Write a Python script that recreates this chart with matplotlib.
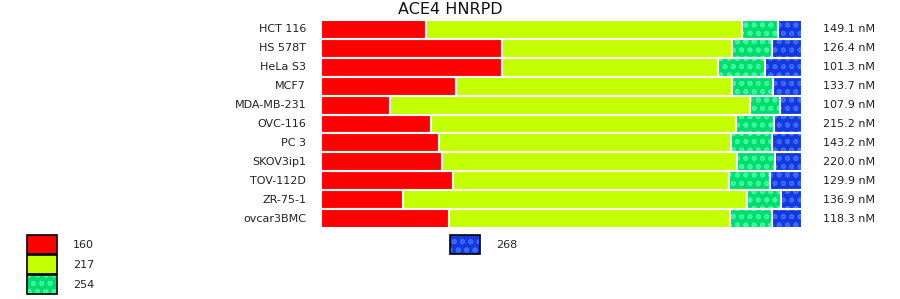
import matplotlib
matplotlib.use("Agg")
import matplotlib.pyplot as plt
from matplotlib.patches import Rectangle

cell_lines = ["HCT 116", "HS 578T", "HeLa S3", "MCF7", "MDA-MB-231", "OVC-116",
              "PC 3", "SKOV3ip1", "TOV-112D", "ZR-75-1", "ovcar3BMC"]
s160 = [21.8, 37.6, 37.6, 28.1, 14.3, 22.9, 24.5, 25.2, 27.4, 17.0, 26.6]
s217 = [65.7, 47.8, 44.9, 57.4, 74.8, 63.4, 60.7, 61.3, 57.4, 71.5, 58.4]
s254 = [7.5, 8.3, 9.8, 8.5, 6.4, 7.9, 8.5, 7.9, 8.5, 7.1, 8.7]
s268 = [5.0, 6.2, 7.7, 6.0, 4.4, 5.8, 6.2, 5.6, 6.7, 4.4, 6.2]
totals = ["149.1 nM", "126.4 nM", "101.3 nM", "133.7 nM", "107.9 nM", "215.2 nM",
          "143.2 nM", "220.0 nM", "129.9 nM", "136.9 nM", "118.3 nM"]
series_names = ["160", "217", "254", "268"]
series = [s160, s217, s254, s268]
faces = ["#ff0000", "#c4ff00", "#00dd6e", "#1539e0"]
hatch_cols = [None, None, "#3dfc9c", "#3c6cff"]
hatches = [None, None, "oo", "oo"]

plt.rcParams["hatch.linewidth"] = 1.2
plt.rcParams["font.family"] = "DejaVu Sans"

W, H = 900, 299
fig = plt.figure(figsize=(W / 100, H / 100), dpi=100)
ax = fig.add_axes([321 / W, 1 - 228 / H, 481 / W, 208 / H])
n = len(cell_lines)
ys = list(range(n))
left = [0.0] * n
for vals, fc, hc, ht in zip(series, faces, hatch_cols, hatches):
    if ht:
        ax.barh(ys, vals, left=left, height=1.0, color=fc, edgecolor=hc,
                hatch=ht, linewidth=0)
    else:
        ax.barh(ys, vals, left=left, height=1.0, color=fc, linewidth=0)
    ax.barh(ys, vals, left=left, height=1.0, fill=False, edgecolor="white",
            linewidth=1.5)
    left = [l + v for l, v in zip(left, vals)]

ax.set_xlim(0, max(left))
ax.set_ylim(n - 0.5, -0.5)
ax.axis("off")

for i, (name, tot) in enumerate(zip(cell_lines, totals)):
    ax.text(-0.031, i, name, transform=ax.get_yaxis_transform(), ha="right",
            va="center", fontsize=8, color="#222222")
    ax.text(1.043, i, tot, transform=ax.get_yaxis_transform(), ha="left",
            va="center", fontsize=8, color="#222222")

fig.text(0.5, 1 - 10 / H, "ACE4 HNRPD", ha="center", va="center", fontsize=11.5,
         color="#111111")

# legend
def legend_box(x0, y0, fc, hc, ht, label):
    r = Rectangle((x0 / W, 1 - (y0 + 19) / H), 30 / W, 19 / H, transform=fig.transFigure,
                  facecolor=fc, edgecolor=hc if ht else fc, hatch=ht, linewidth=0)
    fig.add_artist(r)
    r2 = Rectangle((x0 / W, 1 - (y0 + 19) / H), 30 / W, 19 / H, transform=fig.transFigure,
                   fill=False, edgecolor="black", linewidth=1.2)
    fig.add_artist(r2)
    fig.text((x0 + 46) / W, 1 - (y0 + 10) / H, label, ha="left", va="center",
             fontsize=8, color="#222222")

legend_box(27, 235, faces[0], hatch_cols[0], hatches[0], series_names[0])
legend_box(27, 255, faces[1], hatch_cols[1], hatches[1], series_names[1])
legend_box(27, 275, faces[2], hatch_cols[2], hatches[2], series_names[2])
legend_box(450, 235, faces[3], hatch_cols[3], hatches[3], series_names[3])

fig.savefig("out.png", dpi=100)
